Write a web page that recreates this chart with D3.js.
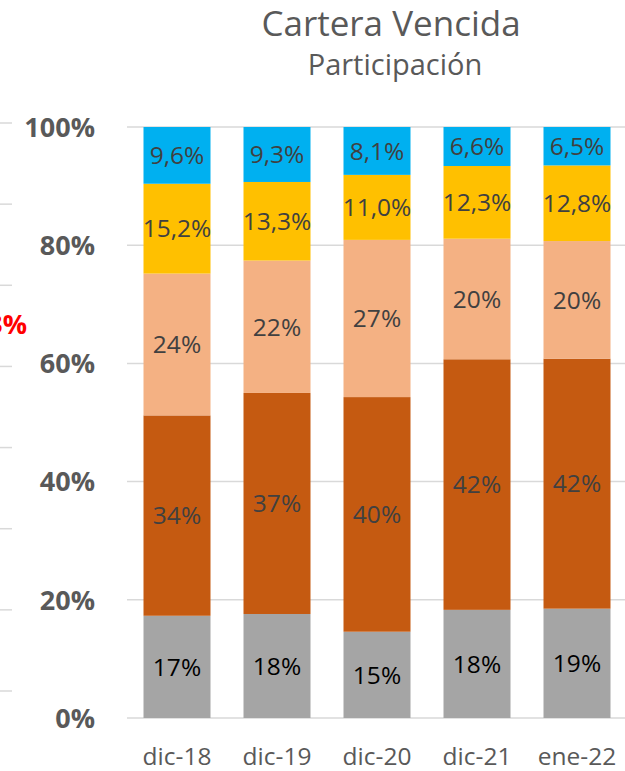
<!DOCTYPE html>
<html>
<head>
<meta charset="utf-8">
<script src="https://cdn.jsdelivr.net/npm/d3@7"></script>
<style>
  body { margin: 0; background: #fff; }
  svg { display: block; font-family: "Open Sans", sans-serif; }
</style>
</head>
<body>
<svg width="625" height="771"></svg>
<script>
// periods and shares (%) per segment, bottom to top
const periods = ["dic-18", "dic-19", "dic-20", "dic-21", "ene-22"];
const segGray = [17.3, 17.6, 14.6, 18.3, 18.5];
const segDark = [33.9, 37.4, 39.7, 42.4, 42.3];
const segLight = [24.0, 22.4, 26.6, 20.4, 19.9];
const segYellow = [15.2, 13.3, 11.0, 12.3, 12.8];
const segBlue = [9.6, 9.3, 8.1, 6.6, 6.5];
const yTicks = [0, 20, 40, 60, 80, 100];

const keys = ["gray", "dark", "light", "yellow", "blue"];
const colors = { gray: "#A5A5A5", dark: "#C55A11", light: "#F4B183", yellow: "#FFC000", blue: "#00B0F0" };
const labelColor = { gray: "#000000", dark: "#404040", light: "#404040", yellow: "#404040", blue: "#404040" };
const decimals = { gray: 0, dark: 0, light: 0, yellow: 1, blue: 1 };

const rows = periods.map((p, i) => ({
  period: p, gray: segGray[i], dark: segDark[i], light: segLight[i],
  yellow: segYellow[i], blue: segBlue[i]
}));

const svg = d3.select("svg");

const x = d3.scaleBand().domain(periods).range([127, 627]).paddingInner(0.33).paddingOuter(0.165);
const y = d3.scaleLinear().domain([0, 100]).range([718, 127]);

// leftover gridlines and label from the neighbouring chart
const ySide = d3.scaleLinear().domain([0, 7]).range([691, 123]);
svg.append("g").selectAll("line").data(d3.range(8)).join("line")
  .attr("x1", 0).attr("x2", 12)
  .attr("y1", d => ySide(d)).attr("y2", d => ySide(d))
  .attr("stroke", "#D9D9D9").attr("stroke-width", 1.5);
svg.append("text").attr("x", 27).attr("y", 334)
  .attr("text-anchor", "end").attr("font-size", 27).attr("font-weight", 700)
  .attr("fill", "#FF0000").text("3%");

// gridlines
svg.append("g").selectAll("line").data(yTicks).join("line")
  .attr("x1", 127).attr("x2", 625)
  .attr("y1", d => y(d)).attr("y2", d => y(d))
  .attr("stroke", "#D9D9D9").attr("stroke-width", 1.5);

// y axis labels
svg.append("g").selectAll("text").data(yTicks).join("text")
  .attr("x", 95).attr("y", d => y(d)).attr("dy", "0.36em")
  .attr("text-anchor", "end").attr("font-size", 27).attr("font-weight", 700)
  .attr("fill", "#595959").text(d => d + "%");

const stack = d3.stack().keys(keys)(rows);

const layer = svg.append("g").selectAll("g").data(stack).join("g")
  .attr("fill", s => colors[s.key]);

layer.selectAll("rect").data(s => s).join("rect")
  .attr("x", d => x(d.data.period))
  .attr("width", x.bandwidth())
  .attr("y", d => y(d[1]))
  .attr("height", d => y(d[0]) - y(d[1]));

const fmt = (v, n) => v.toFixed(n).replace(".", ",") + "%";

svg.append("g").selectAll("g").data(stack).join("g")
  .each(function (s) {
    d3.select(this).selectAll("text").data(s).join("text")
      .attr("x", d => x(d.data.period) + x.bandwidth() / 2)
      .attr("y", d => (y(d[0]) + y(d[1])) / 2)
      .attr("dy", "0.36em")
      .attr("text-anchor", "middle")
      .attr("font-size", 24.5)
      .attr("fill", labelColor[s.key])
      .text(d => fmt(d.data[s.key], decimals[s.key]));
  });

// x axis labels
svg.append("g").selectAll("text").data(periods).join("text")
  .attr("x", d => x(d) + x.bandwidth() / 2).attr("y", 765)
  .attr("text-anchor", "middle").attr("font-size", 24.5)
  .attr("fill", "#595959").text(d => d);

// titles
svg.append("text").attr("x", 391).attr("y", 36)
  .attr("text-anchor", "middle").attr("font-size", 35)
  .attr("fill", "#595959").text("Cartera Vencida");
svg.append("text").attr("x", 395).attr("y", 75)
  .attr("text-anchor", "middle").attr("font-size", 29)
  .attr("fill", "#595959").text("Participación");
</script>
</body>
</html>
